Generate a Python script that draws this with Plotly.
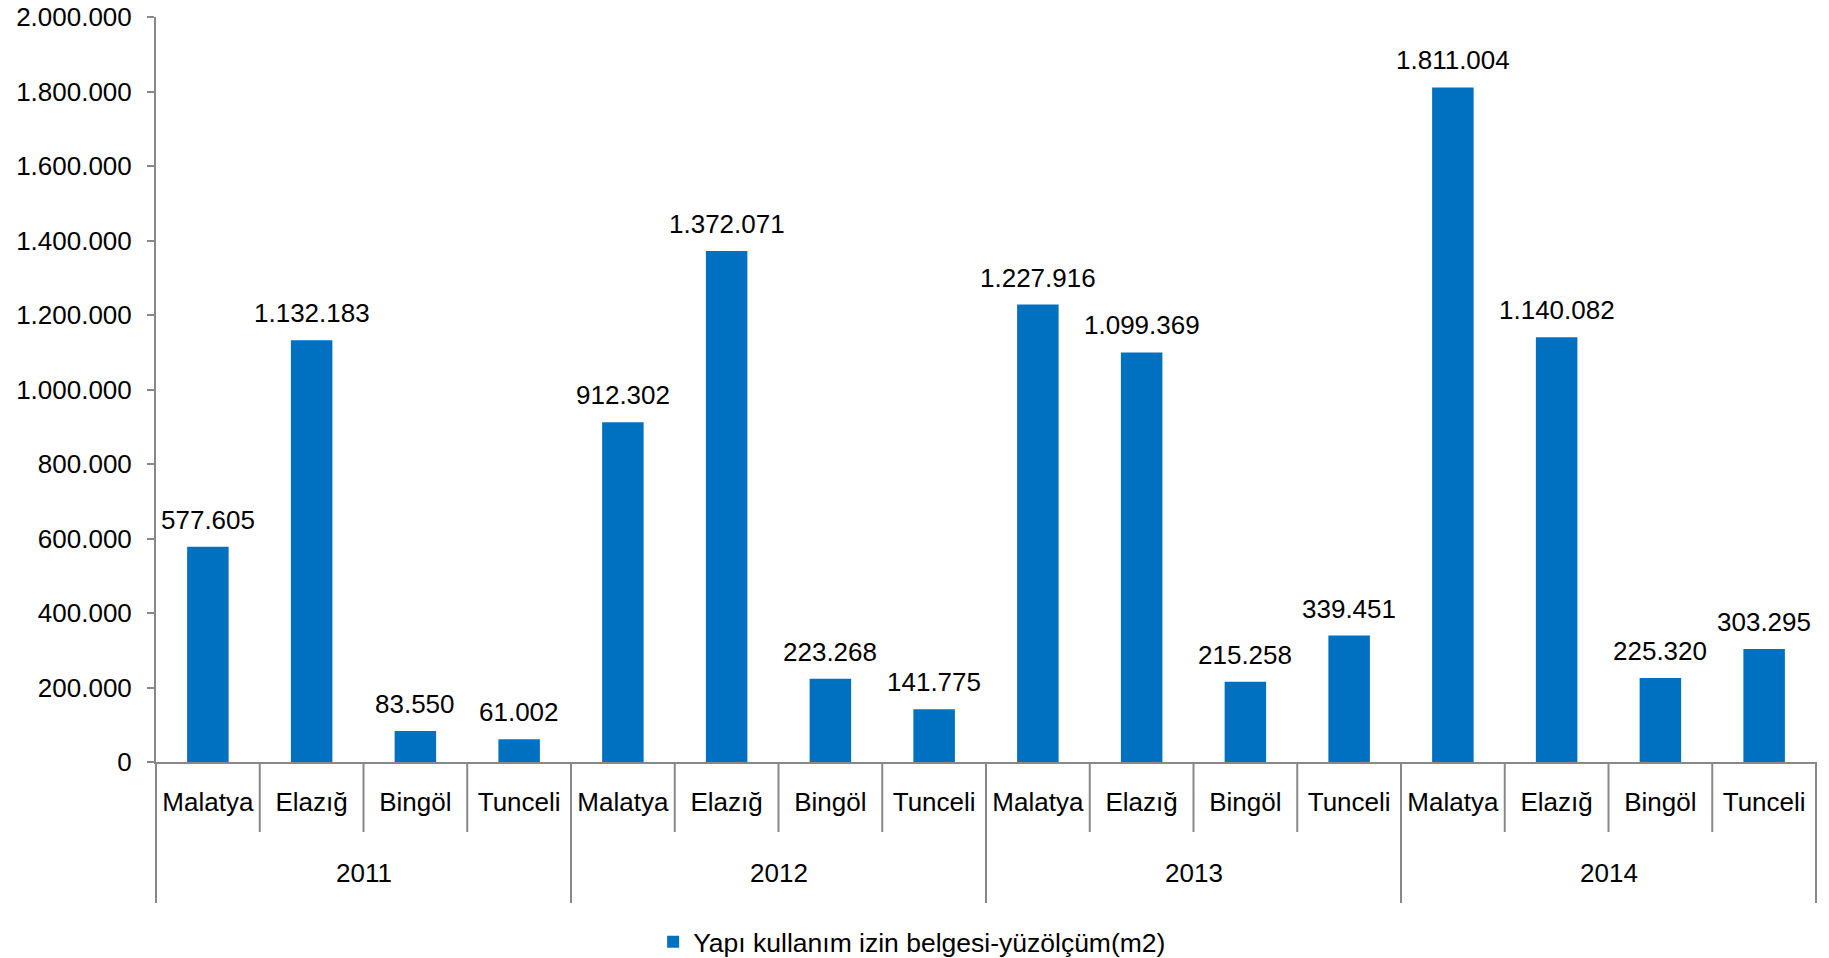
import plotly.graph_objects as go

years = ["2011"] * 4 + ["2012"] * 4 + ["2013"] * 4 + ["2014"] * 4
cities = ["Malatya", "Elazığ", "Bingöl", "Tunceli"] * 4
values = [577605, 1132183, 83550, 61002,
          912302, 1372071, 223268, 141775,
          1227916, 1099369, 215258, 339451,
          1811004, 1140082, 225320, 303295]
series_name = "Yapı kullanım izin belgesi-yüzölçüm(m2)"
y_ticks = [0, 200000, 400000, 600000, 800000, 1000000, 1200000, 1400000, 1600000, 1800000, 2000000]

FONT = "Liberation Sans, Arial, sans-serif"
FS = 26
AXIS_COLOR = "#888888"
BAR_COLOR = "#0070C0"


def tr_num(v):
    return f"{v:,}".replace(",", ".")


keys = [f"{y} {c}" for y, c in zip(years, cities)]

fig = go.Figure()
fig.add_trace(go.Bar(
    x=keys,
    y=values,
    name=series_name,
    marker=dict(color=BAR_COLOR, line=dict(width=0)),
    showlegend=True,
    hovertemplate="%{x}: %{y:,}<extra></extra>",
))

annotations = []
# data labels above bars
for k, v in zip(keys, values):
    annotations.append(dict(
        x=k, y=v, xref="x", yref="y", text=tr_num(v),
        showarrow=False, yanchor="middle", xanchor="center", yshift=27,
        font=dict(size=FS, color="black", family=FONT),
    ))
# year group labels
unique_years = list(dict.fromkeys(years))
for yr in unique_years:
    idx = [i for i, y in enumerate(years) if y == yr]
    annotations.append(dict(
        x=sum(idx) / len(idx), y=0, xref="x", yref="paper", text=yr,
        showarrow=False, yanchor="middle", xanchor="center", yshift=-111,
        font=dict(size=FS, color="black", family=FONT),
    ))

n = len(values)
shapes = []
for i in range(n + 1):
    length = 141 if (i % 4 == 0) else 70
    shapes.append(dict(
        type="line", xref="x domain", yref="paper",
        ysizemode="pixel", yanchor=0,
        x0=i / n, x1=i / n, y0=0, y1=-length,
        line=dict(color=AXIS_COLOR, width=2),
    ))

fig.update_layout(
    width=1829, height=958,
    paper_bgcolor="white", plot_bgcolor="white",
    separators=",.",
    margin=dict(l=156, r=13, t=17, b=196, autoexpand=False),
    bargap=0.6,
    font=dict(family=FONT, size=FS, color="black"),
    shapes=shapes,
    annotations=annotations,
    legend=dict(
        orientation="h",
        xref="container", yref="container",
        x=0.3571, y=0.0167, xanchor="left", yanchor="middle",
        font=dict(size=26.5, color="black", family=FONT),
        itemwidth=30,
    ),
)
fig.update_xaxes(
    type="category",
    tickvals=keys, ticktext=cities,
    showline=True, linecolor=AXIS_COLOR, linewidth=2,
    ticks="",
    tickfont=dict(size=FS, color="black", family=FONT),
    ticklabelstandoff=16,
    showgrid=False, zeroline=False, automargin=False,
)
fig.update_yaxes(
    range=[0, 2000000],
    tickvals=y_ticks,
    tickformat=",d",
    showline=True, linecolor=AXIS_COLOR, linewidth=2,
    ticks="outside", ticklen=7, tickcolor=AXIS_COLOR, tickwidth=2,
    ticklabelstandoff=10,
    ticklabeloverflow="allow",
    showgrid=False, zeroline=False, automargin=False,
    tickfont=dict(size=FS, color="black", family=FONT),
)

fig.write_html(
    "out.html",
    config={"displayModeBar": False},
    post_script="document.body.style.margin='0';document.body.style.overflow='hidden';",
)
